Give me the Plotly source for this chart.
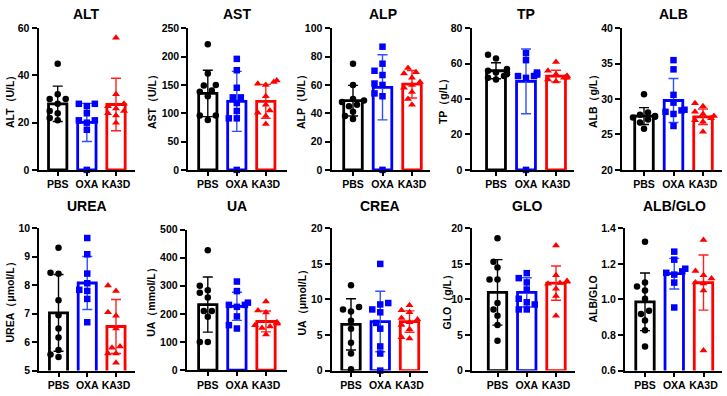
import math
import plotly.graph_objects as go

# ---------------- data ----------------
GROUPS = ["PBS", "OXA", "KA3D"]

ALT_PBS = [45, 32, 30, 30, 28, 25, 24, 22, 21]
ALT_OXA = [28, 28, 27, 24, 21, 21, 20, 17, 0]
ALT_KA3D = [56, 32, 28, 27, 26, 25, 24, 23, 20]
ALT_MEAN = [28.0, 20.1, 27.7]
ALT_SD = [7.5, 8.1, 11.1]

AST_PBS = [222, 170, 150, 149, 140, 138, 130, 96, 96, 88]
AST_OXA = [196, 176, 145, 128, 128, 118, 104, 91, 91, 0]
AST_KA3D = [158, 155, 152, 150, 130, 115, 105, 101, 95, 81]
AST_MEAN = [135, 121, 121]
AST_SD = [41, 53, 30]

ALP_PBS = [75, 60, 50, 49, 48, 46, 45, 41, 38, 36]
ALP_OXA = [87, 75, 70, 67, 61, 60, 54, 52, 0]
ALP_KA3D = [72, 69, 68, 65, 62, 60, 58, 55, 50, 46]
ALP_MEAN = [48.9, 58.3, 60.5]
ALP_SD = [10.8, 23.0, 9.7]

TP_PBS = [65, 63, 57, 56, 55, 55, 54, 53, 52, 51]
TP_OXA = [66, 62, 55, 54, 54, 53, 53, 52, 0]
TP_KA3D = [61, 56, 54, 53, 53, 52, 52, 51, 50]
TP_MEAN = [56.0, 50.0, 53.0]
TP_SD = [4.5, 18.3, 3.3]

ALB_PBS = [30.7, 28.1, 27.8, 27.6, 27.5, 27.4, 27.1, 26.7, 25.8]
ALB_OXA = [35.5, 34.2, 30.6, 29.5, 28.5, 28.4, 28.2, 27.9, 26.2]
ALB_KA3D = [29.4, 29.0, 28.2, 27.9, 27.6, 27.3, 27.0, 26.8, 25.4]
ALB_MEAN = [27.6, 29.8, 27.5]
ALB_SD = [1.2, 3.1, 1.1]

UREA_PBS = [9.32, 8.44, 8.40, 7.47, 6.95, 6.48, 6.16, 5.72, 5.57, 5.48]
UREA_OXA = [9.66, 9.09, 8.41, 8.07, 7.84, 7.80, 7.52, 6.70]
UREA_KA3D = [7.99, 7.80, 7.05, 6.93, 6.48, 5.85, 5.80, 5.60, 5.60, 5.28]
UREA_MEAN = [7.03, 8.08, 6.55]
UREA_SD = [1.35, 0.93, 0.95]

UA_PBS = [426, 300, 284, 275, 258, 210, 210, 190, 100, 100]
UA_OXA = [315, 281, 240, 232, 232, 225, 191, 160, 148]
UA_KA3D = [244, 212, 205, 170, 168, 165, 160, 155, 150, 127]
UA_MEAN = [233, 227, 173]
UA_SD = [98, 50, 37]

CREA_PBS = [12.0, 8.95, 8.6, 8.3, 7.0, 5.9, 3.9, 2.4, 0.2]
CREA_OXA = [15.0, 9.5, 9.3, 8.6, 8.2, 6.7, 5.9, 3.4, 2.4, 0.0]
CREA_KA3D = [9.2, 8.5, 8.2, 7.4, 7.2, 6.8, 6.4, 5.8, 4.7, 4.5]
CREA_MEAN = [6.5, 6.9, 6.9]
CREA_SD = [3.6, 4.25, 1.5]

GLO_PBS = [18.6, 15.3, 14.5, 12.8, 12.8, 9.5, 8.6, 7.7, 6.4, 4.2]
GLO_OXA = [13.7, 13.0, 12.4, 11.4, 10.1, 9.6, 9.3, 8.6, 8.6]
GLO_KA3D = [17.6, 13.4, 12.6, 12.5, 12.3, 12.2, 11.5, 10.5, 7.7]
GLO_MEAN = [11.0, 11.0, 12.3]
GLO_SD = [4.6, 2.05, 2.4]

AG_PBS = [1.324, 1.095, 1.073, 1.051, 1.004, 0.936, 0.918, 0.882, 0.827, 0.736]
AG_OXA = [1.269, 1.224, 1.173, 1.158, 1.15, 1.14, 1.095, 0.955]
AG_KA3D = [1.335, 1.16, 1.136, 1.118, 1.095, 1.09, 1.05, 0.713]
AG_MEAN = [0.987, 1.145, 1.095]
AG_SD = [0.162, 0.086, 0.155]

TITLES = ["ALT", "AST", "ALP", "TP", "ALB", "UREA", "UA", "CREA", "GLO", "ALB/GLO"]
YTITLES = ["ALT（U/L）", "AST（U/L）", "ALP（U/L）", "TP（g/L）", "ALB（g/L）",
           "UREA（μmol/L）", "UA（mmol/L）", "UA（μmol/L）", "GLO（g/L）", "ALB/GLO"]
YRANGES = [(0, 60), (0, 250), (0, 100), (0, 80), (20, 40),
           (5, 10), (0, 500), (0, 20), (0, 20), (0.6, 1.4)]
YDTICKS = [20, 50, 20, 20, 5, 1, 100, 5, 5, 0.2]

POINTS = [
    [ALT_PBS, ALT_OXA, ALT_KA3D], [AST_PBS, AST_OXA, AST_KA3D],
    [ALP_PBS, ALP_OXA, ALP_KA3D], [TP_PBS, TP_OXA, TP_KA3D],
    [ALB_PBS, ALB_OXA, ALB_KA3D], [UREA_PBS, UREA_OXA, UREA_KA3D],
    [UA_PBS, UA_OXA, UA_KA3D], [CREA_PBS, CREA_OXA, CREA_KA3D],
    [GLO_PBS, GLO_OXA, GLO_KA3D], [AG_PBS, AG_OXA, AG_KA3D],
]
MEANS = [ALT_MEAN, AST_MEAN, ALP_MEAN, TP_MEAN, ALB_MEAN,
         UREA_MEAN, UA_MEAN, CREA_MEAN, GLO_MEAN, AG_MEAN]
SDS = [ALT_SD, AST_SD, ALP_SD, TP_SD, ALB_SD,
       UREA_SD, UA_SD, CREA_SD, GLO_SD, AG_SD]

# ---------------- layout / style ----------------
W, H = 727, 396
COLORS = ["#000000", "#0000FF", "#FF0000"]
ERRCOLORS = ["#000000", "#3050FF", "#FF2020"]
SYMBOLS = ["circle", "square", "triangle-up"]
MSIZES = [6.5, 6.5, 7]
FONT = "Liberation Sans, Arial, sans-serif"

# pixel geometry per panel: (y-axis x, first cat x, last cat x, x-axis end)
XGEOM = [
    (38.5, 57.7, 116.0, 135), (188.3, 207.8, 265.8, 287), (331.5, 353, 412, 430),
    (471.5, 496, 556, 574), (622, 644, 703, 722),
    (39.3, 58.5, 116.0, 135), (186.7, 207.8, 266, 287), (331.7, 351, 409.5, 428),
    (472, 497.5, 556, 575), (625, 645, 703.5, 722),
]
YGEOM = [(23, 169)] * 5 + [(229.3, 376), (230.5, 375.5), (229.3, 376), (229.3, 376), (229.3, 376)]
TITLE_Y = [8.5] * 5 + [206] * 5
YTITLE_X = [10, 152, 301, 443, 593, 10, 152, 302, 447, 593]


def spread(values, px_per_unit, px_per_cat):
    order = sorted(range(len(values)), key=lambda i: values[i])
    placed = []
    offs = [0.0] * len(values)
    cands = [0, -4, 4, -8, 8, -11, 11]
    for i in order:
        y = values[i] * px_per_unit
        chosen = cands[-1]
        for c in cands:
            if all(math.hypot(c - px, y - py) >= 7 for px, py in placed):
                chosen = c
                break
        placed.append((chosen, y))
        offs[i] = chosen / px_per_cat
    return offs


fig = go.Figure()
annotations = []
lay = {}
for k in range(10):
    n = k + 1
    xs = "x" if n == 1 else f"x{n}"
    ys = "y" if n == 1 else f"y{n}"
    ax, c0, c2, xe = XGEOM[k]
    s = (c2 - c0) / 2
    r0 = (ax - c0) / s
    r1 = 2 + (xe - c2) / s
    yt, yb = YGEOM[k]
    ylo, yhi = YRANGES[k]
    ppu = (yb - yt) / (yhi - ylo)

    for g in range(3):
        fig.add_trace(go.Bar(
            x=[g], y=[MEANS[k][g]], width=0.63,
            marker=dict(color="rgba(0,0,0,0)", line=dict(color=COLORS[g], width=2.8)),
            error_y=dict(type="data", array=[SDS[k][g]], visible=True,
                         color=ERRCOLORS[g], thickness=1.4, width=5),
            xaxis=xs, yaxis=ys, showlegend=False, hoverinfo="skip",
        ))
    for g in range(3):
        vals = POINTS[k][g]
        offs = spread(vals, ppu, s)
        fig.add_trace(go.Scatter(
            x=[g + o for o in offs], y=vals, mode="markers",
            marker=dict(symbol=SYMBOLS[g], color=COLORS[g], size=MSIZES[g]),
            xaxis=xs, yaxis=ys, showlegend=False, cliponaxis=False,
        ))

    lay["xaxis" if n == 1 else f"xaxis{n}"] = dict(
        domain=[ax / W, xe / W], range=[r0, r1], anchor=ys,
        tickmode="array", tickvals=[0, 1, 2], ticktext=GROUPS,
        showline=True, linecolor="black", linewidth=2,
        ticks="outside", ticklen=4, tickwidth=2, tickcolor="black",
        showgrid=False, zeroline=False, fixedrange=True,
        tickfont=dict(family=FONT, size=10.5, color="black", weight="bold"),
    )
    lay["yaxis" if n == 1 else f"yaxis{n}"] = dict(
        domain=[1 - yb / H, 1 - yt / H], range=[ylo, yhi], anchor=xs,
        tick0=ylo, dtick=YDTICKS[k], tickformat=".1f" if k == 9 else "",
        showline=True, linecolor="black", linewidth=2,
        ticks="outside", ticklen=5, tickwidth=2, tickcolor="black",
        showgrid=False, zeroline=False, fixedrange=True,
        tickfont=dict(family=FONT, size=10.5, color="black", weight="bold"),
    )
    annotations.append(dict(
        text=TITLES[k], x=1, xref=xs, y=1 - TITLE_Y[k] / H, yref="paper",
        showarrow=False, xanchor="center", yanchor="middle",
        font=dict(family=FONT, size=14, color="black", weight="bold"),
    ))
    annotations.append(dict(
        text=YTITLES[k], x=YTITLE_X[k] / W, xref="paper",
        y=1 - (yt + yb) / 2 / H, yref="paper", textangle=-90,
        showarrow=False, xanchor="center", yanchor="middle",
        font=dict(family=FONT, size=10.5, color="black", weight="bold"),
    ))

fig.update_layout(
    width=W, height=H, autosize=False,
    margin=dict(l=0, r=0, t=0, b=0),
    paper_bgcolor="white", plot_bgcolor="white",
    barmode="overlay", showlegend=False,
    annotations=annotations, **lay,
)
fig.write_html(
    "out.html",
    config={"displayModeBar": False},
    post_script="document.body.style.margin='0px';document.body.style.overflow='hidden';",
)
